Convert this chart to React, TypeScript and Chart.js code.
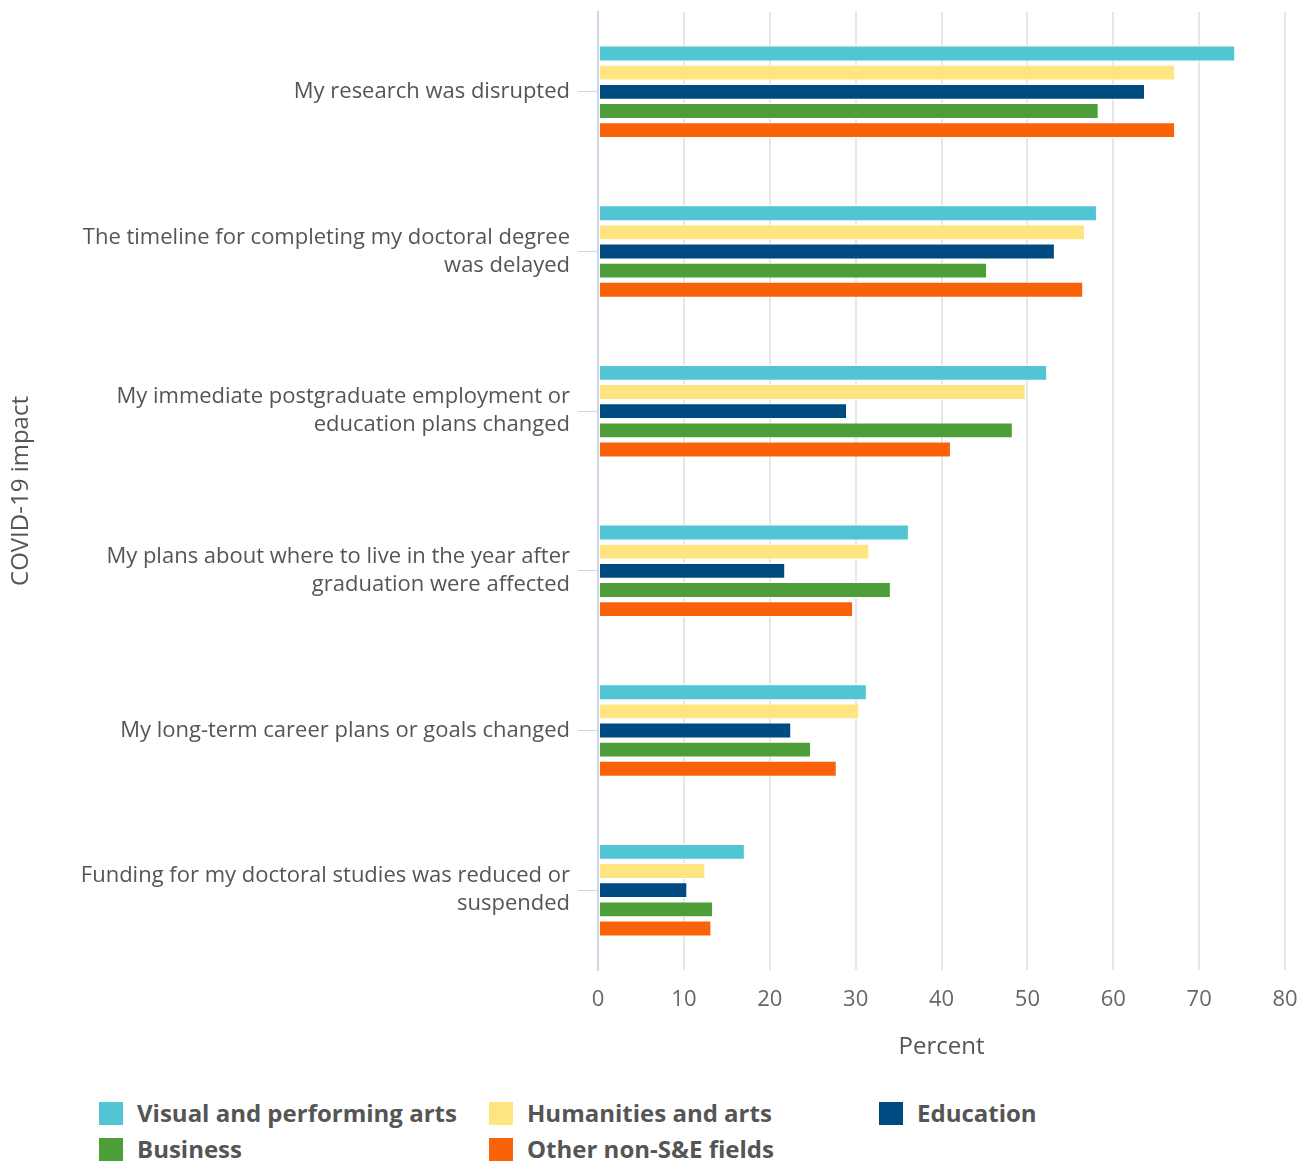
import React, { useEffect, useRef } from "react";
import { Chart, registerables } from "chart.js";

Chart.register(...registerables);

const categories: (string | string[])[] = [
  "My research was disrupted",
  ["The timeline for completing my doctoral degree", "was delayed"],
  ["My immediate postgraduate employment or", "education plans changed"],
  ["My plans about where to live in the year after", "graduation were affected"],
  "My long-term career plans or goals changed",
  ["Funding for my doctoral studies was reduced or", "suspended"],
];

const visualArts = [74.2, 58.1, 52.3, 36.2, 31.3, 17.1];
const humanities = [67.2, 56.7, 49.8, 31.6, 30.4, 12.5];
const education = [63.7, 53.2, 29.0, 21.8, 22.5, 10.4];
const business = [58.3, 45.3, 48.3, 34.1, 24.8, 13.4];
const otherNonSE = [67.2, 56.5, 41.1, 29.7, 27.8, 13.2];

const seriesNames = [
  "Visual and performing arts",
  "Humanities and arts",
  "Education",
  "Business",
  "Other non-S&E fields",
];
const seriesColors = ["#51c5d4", "#fee57f", "#004a82", "#4d9e38", "#fa620a"];
const xTicks = [0, 10, 20, 30, 40, 50, 60, 70, 80];

const FONT = "'Open Sans', 'Noto Sans', sans-serif";

export default function App() {
  const canvasRef = useRef<HTMLCanvasElement | null>(null);

  useEffect(() => {
    if (!canvasRef.current) return;
    const values = [visualArts, humanities, education, business, otherNonSE];
    const chart = new Chart(canvasRef.current, {
      type: "bar",
      data: {
        labels: categories,
        datasets: values.map((d, i) => ({
          label: seriesNames[i],
          data: d,
          backgroundColor: seriesColors[i],
          borderColor: "#ffffff",
          borderWidth: 1,
          borderSkipped: false,
          categoryPercentage: 0.6,
          barPercentage: 0.83,
        })),
      },
      options: {
        indexAxis: "y",
        responsive: false,
        animation: false,
        layout: { padding: { top: 12, left: 0, right: 16, bottom: 0 } },
        plugins: {
          legend: { display: false },
          tooltip: { enabled: false },
        },
        scales: {
          x: {
            min: 0,
            max: 80,
            afterBuildTicks: (scale: any) => {
              scale.ticks = xTicks.map((v) => ({ value: v }));
            },
            afterFit: (scale: any) => {
              scale.height = 110;
              scale.paddingLeft = 0;
              scale.paddingRight = 0;
            },
            grid: {
              color: "#e6e6e6",
              lineWidth: 2,
              drawTicks: false,
            },
            border: { display: false },
            ticks: {
              color: "#666666",
              font: { family: FONT, size: 22 },
              padding: 17,
            },
            title: {
              display: true,
              text: "Percent",
              color: "#555555",
              font: { family: FONT, size: 24 },
              padding: { top: 10, bottom: 18 },
            },
          },
          y: {
            afterFit: (scale: any) => {
              scale.width = 598;
              scale.paddingTop = 0;
              scale.paddingBottom = 0;
            },
            grid: {
              offset: false,
              drawOnChartArea: false,
              drawTicks: true,
              tickLength: 20,
              tickColor: "#ccd6eb",
              tickWidth: 1,
            },
            border: { display: true, color: "#ccd6eb", width: 2 },
            ticks: {
              color: "#555555",
              font: { family: FONT, size: 22, lineHeight: 1.27 },
              padding: 8,
            },
            title: {
              display: true,
              text: "COVID-19 impact",
              color: "#555555",
              font: { family: FONT, size: 24 },
              padding: { top: 7, bottom: 0 },
            },
          },
        },
      },
    });
    return () => chart.destroy();
  }, []);

  const legendCols = [99, 489, 879];
  const legendRows = [1101, 1137];

  return (
    <div
      style={{
        position: "absolute",
        left: 0,
        top: 0,
        width: 1301,
        height: 1161,
        background: "#ffffff",
        fontFamily: FONT,
        overflow: "hidden",
      }}
    >
      <canvas
        ref={canvasRef}
        width={1301}
        height={1080}
        style={{ position: "absolute", left: 0, top: 0, width: 1301, height: 1080 }}
      />
      {seriesNames.map((name, i) => {
        const col = i % 3;
        const row = Math.floor(i / 3);
        return (
          <div
            key={name}
            style={{
              position: "absolute",
              left: legendCols[col],
              top: legendRows[row],
              height: 24,
              display: "flex",
              alignItems: "center",
              whiteSpace: "nowrap",
            }}
          >
            <span
              style={{
                display: "inline-block",
                width: 24,
                height: 23,
                background: seriesColors[i],
                marginRight: 14,
              }}
            />
            <span
              style={{
                fontWeight: 700,
                fontSize: 24,
                color: "#555555",
                lineHeight: "24px",
              }}
            >
              {name}
            </span>
          </div>
        );
      })}
    </div>
  );
}
